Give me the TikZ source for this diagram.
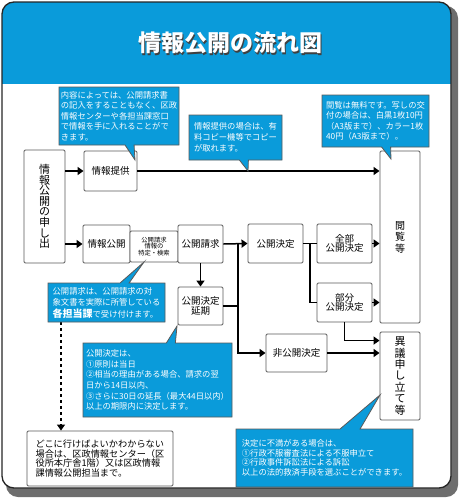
\documentclass[tikz,border=0pt]{standalone}
\usepackage{fontspec}
\setmainfont{Noto Sans CJK JP}
\usetikzlibrary{arrows.meta,shapes.callouts}

\definecolor{infoblue}{HTML}{0A9BDA}
\definecolor{boxgray}{HTML}{5A5A5A}
\definecolor{shadowgray}{HTML}{6E6E6E}

\tikzset{
  flowbox/.style={draw=boxgray, line width=0.9pt, fill=white, rounded corners=1.2pt,
    inner sep=0pt, align=center, font=\fontsize{9.5}{9.5}\selectfont},
  note/.style={rectangle callout, draw=boxgray, line width=0.8pt, fill=infoblue,
    text=white, align=left, inner sep=0pt, callout pointer width=9pt,
    font=\fontsize{8.3}{10.6}\selectfont},
  flow/.style={draw=black, line width=1.5pt, -{Triangle[length=6pt,width=8pt]}},
  joint/.style={draw=black, line width=1.5pt},
}

\begin{document}
\begin{tikzpicture}[x=1pt,y=-1pt]
  \useasboundingbox (0,0) rectangle (460,498);

  % frame
  \fill[shadowgray, rounded corners=12pt] (6,6) rectangle (458,497);
  \fill[white, rounded corners=12pt] (2,2) rectangle (451,488);
  \begin{scope}
    \clip[rounded corners=12pt] (2,2) rectangle (451,488);
    \fill[infoblue] (2,2) rectangle (451,84);
  \end{scope}
  \draw[black!85, line width=1.3pt, rounded corners=12pt] (2,2) rectangle (451,488);

  % title
  \node[text=black!75, font=\fontsize{23}{23}\selectfont\bfseries] (titleshade) at (231.5,44.5) {情報公開の流れ図};
  \node[text=white, font=\fontsize{23}{23}\selectfont\bfseries] (title) at (230,43) {情報公開の流れ図};

  % boxes
  \node[flowbox, minimum width=41pt, minimum height=113pt, font=\fontsize{11}{10.6}\selectfont] (request) at (44.5,206.5)
    {情\\報\\公\\開\\の\\申\\し\\出};
  \node[flowbox, minimum width=53pt, minimum height=40pt] (provide) at (110.5,171) {情報提供};
  \node[flowbox, minimum width=40pt, minimum height=172pt, font=\fontsize{10}{11.5}\selectfont] (view) at (400,237)
    {閲\\覧\\等};
  \node[flowbox, minimum width=47pt, minimum height=38pt] (disclose) at (106.5,244) {情報公開};
  \node[flowbox, minimum width=48pt, minimum height=31pt, font=\fontsize{6.3}{6.5}\selectfont] (search) at (154,246.5)
    {公開請求\\情報の\\特定・検索};
  \node[flowbox, minimum width=45pt, minimum height=38pt] (claim) at (200.5,244) {公開請求};
  \node[flowbox, minimum width=45pt, minimum height=38pt] (delay) at (200.5,306) {公開決定\\延期};
  \node[flowbox, minimum width=55pt, minimum height=39pt] (decide) at (275.5,243.5) {公開決定};
  \node[flowbox, minimum width=55pt, minimum height=39pt] (full) at (344.5,243.5) {全部\\公開決定};
  \node[flowbox, minimum width=55pt, minimum height=39pt] (part) at (344.5,302.5) {部分\\公開決定};
  \node[flowbox, minimum width=61pt, minimum height=38pt] (refuse) at (296.5,353) {非公開決定};
  \node[flowbox, minimum width=40pt, minimum height=88pt, font=\fontsize{11}{11.4}\selectfont] (appeal) at (400,376)
    {異\\議\\申\\し\\立\\て\\等};
  \node[flowbox, minimum width=146pt, minimum height=55pt, align=left,
    font=\fontsize{9.2}{9.5}\selectfont] (guide) at (100,458.5)
    {どこに行けばよいかわからない\\場合は、区政情報センター（区\\役所本庁舎1階）又は区政情報\\課情報公開担当まで。};

  % connectors
  \coordinate (split1) at (238,244);
  \coordinate (split2) at (310,243.5);
  \coordinate (dashtop) at (61,322);
  \draw[flow] (request.east |- provide.west) -- (provide.west);
  \draw[flow] (provide.east) -- (provide.east -| view.west);
  \draw[flow] (request.east |- disclose.west) -- (disclose.west);
  \draw[flow] (claim.east) -- (decide.west);
  \draw[flow] (claim.south) -- (delay.north);
  \draw[joint] (delay.east) -- (delay.east -| split1);
  \draw[flow] (split1) |- (refuse.west);
  \draw[joint] (decide.east) -- (full.west);
  \draw[joint] (split2) |- (part.west);
  \draw[flow] (full.east) -- (full.east -| view.west);
  \draw[flow] (part.east) -- (part.east -| view.west);
  \draw[flow] (part.south) |- ([yshift=-9pt]appeal.north west);
  \draw[flow] (refuse.east) -- (refuse.east -| appeal.west);
  \draw[flow, line width=1.2pt, dashed] (dashtop) -- (dashtop |- guide.north);

  % notes
  \node[note, minimum width=120pt, minimum height=58pt, callout absolute pointer={(135,160)}] (noteA) at (119,116)
    {内容によっては、公開請求書\\の記入をすることもなく、区政\\情報センターや各担当課窓口\\で情報を手に入れることがで\\きます。};
  \node[note, minimum width=93pt, minimum height=45pt, callout absolute pointer={(248,171)},
    font=\fontsize{8.3}{11}\selectfont] (noteB) at (235.5,137.5)
    {情報提供の場合は、有\\料コピー機等でコピー\\が取れます。};
  \node[note, minimum width=107pt, minimum height=52pt, callout absolute pointer={(391,159)}] (noteC) at (375.5,121)
    {閲覧は無料です。写しの交\\付の場合は、白黒1枚10円\\（A3版まで）、カラー1枚\\40円（A3版まで）。};
  \node[note, minimum width=117pt, minimum height=39pt, callout absolute pointer={(144,262)},
    font=\fontsize{8.3}{11.5}\selectfont] (noteD) at (106.5,302.5)
    {公開請求は、公開請求の対\\象文書を実際に所管している\\{\fontsize{10}{10}\selectfont\bfseries 各担当課}で受け付けます。};
  \node[note, minimum width=149pt, minimum height=74pt, callout absolute pointer={(177,326)}] (noteE) at (157.5,380)
    {公開決定は、\\①原則は当日\\②相当の理由がある場合、請求の翌\\日から14日以内、\\③さらに30日の延長（最大44日以内）\\以上の期限内に決定します。};
  \node[note, minimum width=177pt, minimum height=58pt, callout absolute pointer={(380,395)},
    callout pointer width=20pt, font=\fontsize{8.3}{9.6}\selectfont] (noteF) at (324.5,458)
    {決定に不満がある場合は、\\①行政不服審査法による不服申立て\\②行政事件訴訟法による訴訟\\以上の法的救済手段を選ぶことができます。};
\end{tikzpicture}
\end{document}
